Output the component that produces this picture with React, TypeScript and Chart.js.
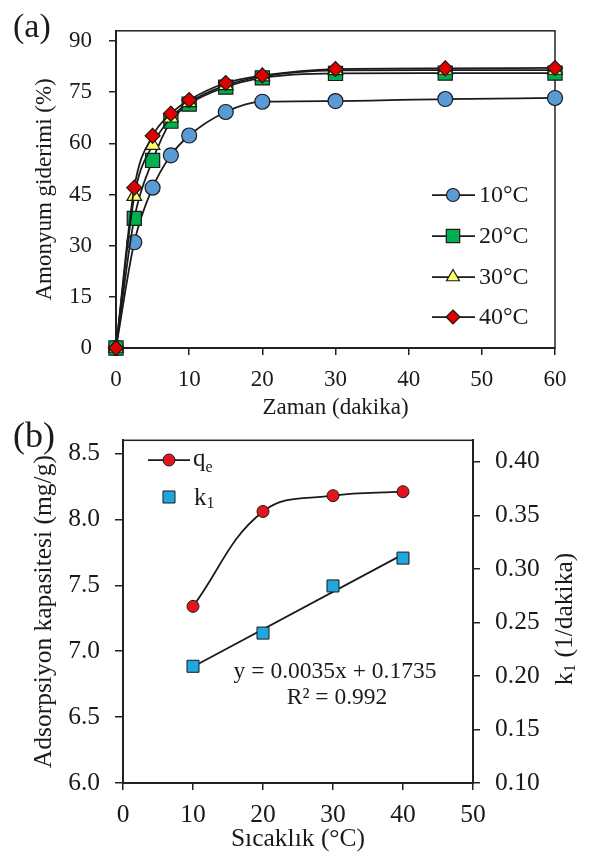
import React, { useEffect, useRef } from "react";
import { Chart, registerables } from "chart.js";
Chart.register(...registerables);

const FONT = "'Liberation Serif', 'Times New Roman', Times, serif";
const INK = "#1a1a1a";

// ---------- Panel (a) data ----------
const timeMin = [0, 2.5, 5, 7.5, 10, 15, 20, 30, 45, 60];
const removal10C = [0, 31, 47, 56.5, 62.3, 69.2, 72.2, 72.4, 73, 73.3];
const removal20C = [0, 38, 55, 66.5, 71.5, 76.5, 79.2, 80.5, 80.6, 80.6];
const removal30C = [0, 44.5, 59.5, 67.5, 72, 77, 79.6, 81.4, 81.5, 81.5];
const removal40C = [0, 47, 62.2, 68.7, 72.7, 77.7, 79.9, 81.8, 82, 82.1];
const seriesLabelsA = ["10°C", "20°C", "30°C", "40°C"];

// ---------- Panel (b) data ----------
const tempC = [10, 20, 30, 40];
const qeValues = [7.34, 8.06, 8.18, 8.21];
const k1Values = [0.209, 0.24, 0.284, 0.31];
const trendX = [10, 40];
const trendY = [0.2085, 0.3135];
const equationText = "y = 0.0035x + 0.1735";
const r2Text = "R² = 0.992";

type Marker = { style: string; fill: string; r: number; lr: number };
const markersA: Marker[] = [
  { style: "circle", fill: "#5B9BD5", r: 7.5, lr: 6.5 },
  { style: "rect", fill: "#00B050", r: 10, lr: 9.5 },
  { style: "triangle", fill: "#FFFF66", r: 8.5, lr: 7.5 },
  { style: "rectRot", fill: "#E00000", r: 7.5, lr: 7 },
];

function drawMarker(ctx: CanvasRenderingContext2D, style: string, x: number, y: number, r: number, fill: string, lw = 1.2) {
  ctx.save();
  ctx.beginPath();
  if (style === "circle") {
    ctx.arc(x, y, r, 0, Math.PI * 2);
  } else if (style === "rect") {
    const h = r * Math.SQRT1_2;
    ctx.rect(x - h, y - h, 2 * h, 2 * h);
  } else if (style === "triangle") {
    let a = 0;
    ctx.moveTo(x + Math.sin(a) * r, y - Math.cos(a) * r);
    a += (2 * Math.PI) / 3;
    ctx.lineTo(x + Math.sin(a) * r, y - Math.cos(a) * r);
    a += (2 * Math.PI) / 3;
    ctx.lineTo(x + Math.sin(a) * r, y - Math.cos(a) * r);
    ctx.closePath();
  } else if (style === "rectRot") {
    ctx.moveTo(x, y - r);
    ctx.lineTo(x + r, y);
    ctx.lineTo(x, y + r);
    ctx.lineTo(x - r, y);
    ctx.closePath();
  }
  ctx.fillStyle = fill;
  ctx.fill();
  ctx.lineWidth = lw;
  ctx.strokeStyle = INK;
  ctx.stroke();
  ctx.restore();
}

const boxPlugin = {
  id: "box",
  beforeDatasetsDraw(chart: any) {
    const { ctx, chartArea: a } = chart;
    ctx.save();
    ctx.strokeStyle = "#222";
    ctx.lineWidth = 1.5;
    ctx.strokeRect(a.left, a.top, a.right - a.left, a.bottom - a.top);
    ctx.restore();
  },
};

const decorA = {
  id: "decorA",
  afterDraw(chart: any) {
    const ctx: CanvasRenderingContext2D = chart.ctx;
    ctx.save();
    ctx.fillStyle = INK;
    ctx.font = `34px ${FONT}`;
    ctx.textBaseline = "middle";
    ctx.textAlign = "left";
    ctx.fillText("(a)", 13, 28);
    const rows = [195, 236, 277, 317];
    ctx.font = `24px ${FONT}`;
    rows.forEach((y, i) => {
      ctx.beginPath();
      ctx.moveTo(432, y);
      ctx.lineTo(475, y);
      ctx.lineWidth = 1.75;
      ctx.strokeStyle = INK;
      ctx.stroke();
      const m = markersA[i];
      drawMarker(ctx, m.style, 453, y, m.lr, m.fill);
      ctx.fillStyle = INK;
      ctx.fillText(seriesLabelsA[i], 479, y + 1);
    });
    ctx.restore();
  },
};

const decorB = {
  id: "decorB",
  afterDraw(chart: any) {
    const ctx: CanvasRenderingContext2D = chart.ctx;
    ctx.save();
    ctx.fillStyle = INK;
    ctx.textBaseline = "middle";
    ctx.textAlign = "left";
    ctx.font = `36px ${FONT}`;
    ctx.fillText("(b)", 13, 28);

    // legend
    ctx.beginPath();
    ctx.moveTo(148, 50);
    ctx.lineTo(190, 50);
    ctx.lineWidth = 1.75;
    ctx.strokeStyle = INK;
    ctx.stroke();
    drawMarker(ctx, "circle", 169, 50, 6, "#E3141B", 1);
    drawMarker(ctx, "rect", 169, 87, 8.5, "#1FA7DE", 1);
    ctx.fillStyle = INK;
    ctx.textBaseline = "alphabetic";
    ctx.font = `25px ${FONT}`;
    ctx.fillText("q", 193, 56);
    let w = ctx.measureText("q").width;
    ctx.font = `16px ${FONT}`;
    ctx.fillText("e", 193 + w, 62);
    ctx.font = `25px ${FONT}`;
    ctx.fillText("k", 194, 95);
    w = ctx.measureText("k").width;
    ctx.font = `16px ${FONT}`;
    ctx.fillText("1", 194 + w, 98);

    // equation
    ctx.textAlign = "center";
    ctx.textBaseline = "middle";
    ctx.font = `23.5px ${FONT}`;
    ctx.fillText(equationText, 335, 262);
    ctx.fillText(r2Text, 337, 288);

    // right axis title (reads bottom to top)
    ctx.translate(565, 209);
    ctx.rotate(-Math.PI / 2);
    ctx.textAlign = "left";
    ctx.textBaseline = "middle";
    const big = `25.5px ${FONT}`;
    const small = `17px ${FONT}`;
    ctx.font = big;
    const wk = ctx.measureText("k").width;
    const rest = " (1/dakika)";
    const wr = ctx.measureText(rest).width;
    ctx.font = small;
    const w1 = ctx.measureText("1").width;
    const total = wk + w1 + wr;
    const x0 = -total / 2;
    ctx.font = big;
    ctx.fillText("k", x0, 0);
    ctx.font = small;
    ctx.fillText("1", x0 + wk, 6);
    ctx.font = big;
    ctx.fillText(rest, x0 + wk + w1, 0);
    ctx.restore();
  },
};

function pts(xs: number[], ys: number[]) {
  return xs.map((x, i) => ({ x, y: ys[i] }));
}

function axisCommon(size: number) {
  return {
    ticks: { color: INK, font: { family: FONT, size } },
    grid: { drawOnChartArea: false, drawTicks: true, tickLength: 7, color: "#222", lineWidth: 1.5 },
    border: { color: "#222", width: 2 },
  };
}

function ChartA() {
  const ref = useRef<HTMLCanvasElement>(null);
  useEffect(() => {
    const series = [removal10C, removal20C, removal30C, removal40C];
    const c = axisCommon(23);
    const chart = new Chart(ref.current!, {
      type: "line",
      data: {
        datasets: series.map((ys, i) => ({
          label: seriesLabelsA[i],
          data: pts(timeMin, ys),
          borderColor: INK,
          borderWidth: 1.75,
          cubicInterpolationMode: "monotone",
          pointStyle: markersA[i].style as any,
          pointRadius: markersA[i].r,
          pointBackgroundColor: markersA[i].fill,
          pointBorderColor: INK,
          pointBorderWidth: 1.2,
          order: 4 - i,
          clip: false as any,
        })),
      },
      options: {
        animation: false,
        responsive: false,
        maintainAspectRatio: false,
        layout: { padding: { top: 7, right: 40, left: 0, bottom: 0 } },
        plugins: { legend: { display: false }, tooltip: { enabled: false } },
        scales: {
          x: {
            type: "linear",
            min: 0,
            max: 60,
            ...c,
            ticks: { ...c.ticks, stepSize: 10, padding: 11, maxRotation: 0 },
            title: { display: true, text: "Zaman (dakika)", color: INK, font: { family: FONT, size: 23 }, padding: { top: 0, bottom: 3 } },
            afterFit: (s: any) => { s.height = 77; },
          },
          y: {
            type: "linear",
            min: 0,
            max: 93,
            ...c,
            ticks: { ...c.ticks, stepSize: 15, includeBounds: false, padding: 17 },
            title: { display: true, text: "Amonyum giderimi (%)", color: INK, font: { family: FONT, size: 23 }, padding: { top: 31, bottom: 0 } },
            afterFit: (s: any) => { s.width = 116; },
          },
        },
      } as any,
      plugins: [boxPlugin, decorA],
    });
    return () => chart.destroy();
  }, []);
  return <canvas ref={ref} width={595} height={425} style={{ position: "absolute", left: 0, top: 0 }} />;
}

function ChartB() {
  const ref = useRef<HTMLCanvasElement>(null);
  useEffect(() => {
    const c = axisCommon(25.5);
    const chart = new Chart(ref.current!, {
      type: "line",
      data: {
        datasets: [
          {
            label: "qe",
            data: pts(tempC, qeValues),
            yAxisID: "y",
            borderColor: INK,
            borderWidth: 1.75,
            tension: 0.4,
            pointStyle: "circle",
            pointRadius: 6,
            pointBackgroundColor: "#E3141B",
            pointBorderColor: INK,
            pointBorderWidth: 1,
            order: 2,
            clip: false as any,
          },
          {
            label: "k1",
            data: pts(tempC, k1Values),
            yAxisID: "y1",
            showLine: false,
            pointStyle: "rect",
            pointRadius: 8.5,
            pointBackgroundColor: "#1FA7DE",
            pointBorderColor: INK,
            pointBorderWidth: 1,
            order: 1,
            clip: false as any,
          },
          {
            label: "trend",
            data: pts(trendX, trendY),
            yAxisID: "y1",
            borderColor: INK,
            borderWidth: 1.75,
            pointRadius: 0,
            tension: 0,
            order: 3,
          },
        ],
      },
      options: {
        animation: false,
        responsive: false,
        maintainAspectRatio: false,
        layout: { padding: { top: 29, right: 0, left: 0, bottom: 0 } },
        plugins: { legend: { display: false }, tooltip: { enabled: false } },
        scales: {
          x: {
            type: "linear",
            min: 0,
            max: 50,
            ...c,
            ticks: { ...c.ticks, stepSize: 10, padding: 10, maxRotation: 0 },
            title: { display: true, text: "Sıcaklık (°C)", color: INK, font: { family: FONT, size: 25.5 }, padding: { top: 0, bottom: 2 } },
            afterFit: (s: any) => { s.height = 74; },
          },
          y: {
            type: "linear",
            position: "left",
            min: 6,
            max: 8.6,
            ...c,
            grid: { ...c.grid, tickLength: 8 },
            ticks: { ...c.ticks, stepSize: 0.5, includeBounds: false, padding: 15, callback: (v: any) => Number(v).toFixed(1) },
            title: { display: true, text: "Adsorpsiyon kapasitesi (mg/g)", color: INK, font: { family: FONT, size: 25.5 }, padding: { top: 29, bottom: 0 } },
            afterFit: (s: any) => { s.width = 123; },
          },
          y1: {
            type: "linear",
            position: "right",
            min: 0.1,
            max: 0.42,
            ...c,
            ticks: { ...c.ticks, stepSize: 0.05, includeBounds: false, padding: 15, callback: (v: any) => Number(v).toFixed(2) },
            afterFit: (s: any) => { s.width = 122; },
          },
        },
      } as any,
      plugins: [boxPlugin, decorB],
    });
    return () => chart.destroy();
  }, []);
  return <canvas ref={ref} width={595} height={447} style={{ position: "absolute", left: 0, top: 410 }} />;
}

export default function App() {
  return (
    <div style={{ position: "absolute", left: 0, top: 0, width: 595, height: 857, background: "#fff", overflow: "hidden" }}>
      <ChartA />
      <ChartB />
    </div>
  );
}
